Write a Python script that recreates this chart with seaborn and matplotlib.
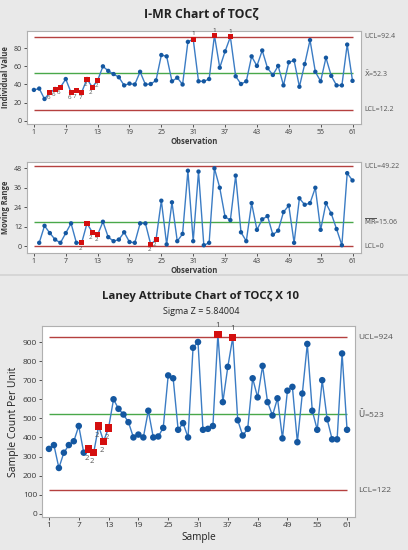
import pandas as pd
import seaborn as sns
import matplotlib.pyplot as plt
from matplotlib.patches import Rectangle

# individual values (I chart)
obs = list(range(1, 62))
toc = [34, 35.5, 24, 31, 35, 37, 46, 31, 33, 31.5,
       46, 37, 44.5, 60, 55, 51.5, 48, 39, 41, 40,
       54, 40, 40.5, 44.5, 72.5, 71, 43.5, 47.5, 40, 87,
       90, 43.5, 43.5, 46, 94, 58.5, 76.5, 92.5, 49, 40.5,
       43.5, 71, 60.5, 77.5, 58, 50.5, 60.5, 39, 64.5, 66.5,
       37.5, 62.5, 89, 54, 43.5, 69.5, 49.5, 39, 39, 84, 44]
i_red = [4, 5, 6, 8, 9, 10, 11, 12, 13, 31, 35, 38]
i_tags = ['6', '6', '6', '6', '7', '7', '2', '2', '2', '1', '1', '1']

# moving ranges
mr_obs = list(range(2, 62))
mr = [2, 12.5, 8, 4, 2, 8, 14, 2, 2, 14,
      8.5, 7, 15, 5.5, 3, 4, 8.5, 2.5, 2, 14,
      14, 1, 4, 28, 1, 27, 3, 7.5, 46.5, 3,
      46, 0.5, 2, 48, 36, 18, 16, 43.5, 8.5, 3,
      26.5, 10, 16.5, 18.5, 7, 9.5, 21, 25, 2, 29.5,
      25.5, 26.5, 36, 10, 26.5, 20, 10.5, 0.5, 45, 40.5]
mr_red = [10, 11, 12, 13, 23, 24]
mr_tags = ['2', '', '2', '2', '2', '2']

# Laney U' chart (TOC x 10)
laney = [340, 360, 240, 320, 360, 380, 460, 320, 340, 320,
         460, 380, 450, 600, 550, 520, 480, 400, 415, 400,
         540, 400, 405, 450, 725, 710, 440, 475, 400, 870,
         900, 440, 445, 460, 940, 585, 770, 925, 490, 410,
         445, 710, 610, 775, 585, 515, 605, 395, 645, 665,
         375, 630, 890, 540, 440, 700, 495, 390, 390, 840, 440]
l_red = [9, 10, 11, 12, 13, 35, 38]
l_tags = ['2', '2', '2', '2', '2', '1', '1']

xticks = list(range(1, 62, 6))

W, H = 408, 550
LINE = '#3b7cc4'
DOT = '#1457a0'
RED = '#d40f0f'
LIM = '#b5403f'
CEN = '#49a84a'
TXT = '#3a3a3a'
LABC = '#555555'


def rect(l, t, r, b):
    return [l / W, 1 - b / H, (r - l) / W, (b - t) / H]


sns.set_theme(style='white')
plt.rcParams['font.family'] = ['Open Sans', 'DejaVu Sans']

fig = plt.figure(figsize=(W / 100, H / 100), dpi=100)
fig.patch.set_facecolor('#e9e9e9')
fig.add_artist(Rectangle((0, 1 - 276 / H), 1, 2 / H, transform=fig.transFigure,
                         facecolor='#d6d6d6', edgecolor='none'))


def draw(ax, x, y, red, tags, lims, labels, xlim, ylim, yticks, fs, lab_x,
         tag_fs, msize):
    df = pd.DataFrame({'x': x, 'y': y})
    sns.lineplot(data=df, x='x', y='y', ax=ax, color=LINE, lw=1.0)
    sns.scatterplot(data=df, x='x', y='y', ax=ax, color=DOT, s=msize,
                    edgecolor='none', zorder=3)
    rd = df[df['x'].isin(red)]
    sns.scatterplot(data=rd, x='x', y='y', ax=ax, color=RED, marker='s',
                    s=msize * 1.3, edgecolor='none', zorder=4)
    span = ylim[1] - ylim[0]
    for (xi, yi), t in zip(rd[['x', 'y']].values, tags):
        if t == '1':
            ax.text(xi, yi + span * 0.03, t, ha='center', va='bottom',
                    fontsize=tag_fs, color=TXT)
        elif t:
            ax.text(xi - 0.3, yi - span * 0.03, t, ha='center', va='top',
                    fontsize=tag_fs, color='#555555')
    cols = [LIM, CEN, LIM]
    for v, c, lab in zip(lims, cols, labels):
        ax.hlines(v, 1, 61, color=c, lw=1.0, zorder=1)
        ax.annotate(lab, xy=(lab_x, v), xycoords=('figure pixels', 'data'),
                    va='center', ha='left', fontsize=fs, color=LABC)
    ax.set_xlim(*xlim)
    ax.set_ylim(*ylim)
    ax.set_xticks(xticks)
    ax.set_yticks(yticks)
    ax.tick_params(axis='both', labelsize=fs, colors=TXT, length=2,
                   width=0.6, pad=1.5, bottom=True, left=True)
    for s in ax.spines.values():
        s.set_color('#b0b0b0')
        s.set_linewidth(0.8)
    ax.set_facecolor('white')


# I chart
ax1 = fig.add_axes(rect(27, 31, 361, 124))
draw(ax1, obs, toc, i_red, i_tags, [92.4, 52.3, 12.2],
     ['UCL=92.4', r'$\bar{\mathrm{X}}$=52.3', 'LCL=12.2'],
     (-0.3, 62.6), (-3.6, 99), [0, 20, 40, 60, 80], 5, 364, 4.5, 10)
ax1.set_xlabel('Observation', fontsize=5.5, fontweight='bold', color=TXT,
               labelpad=1)
ax1.set_ylabel('Individual Value', fontsize=5.5, fontweight='bold', color=TXT,
               labelpad=3)

# MR chart
ax2 = fig.add_axes(rect(27, 162, 361, 253))
draw(ax2, mr_obs, mr, mr_red, mr_tags, [49.22, 15.06, 0],
     ['UCL=49.22', r'$\overline{\mathrm{MR}}$=15.06', 'LCL=0'],
     (-0.3, 62.6), (-4.3, 51.9), [0, 12, 24, 36, 48], 5, 364, 4.5, 10)
ax2.set_xlabel('Observation', fontsize=5.5, fontweight='bold', color=TXT,
               labelpad=1)
ax2.set_ylabel('Moving Range', fontsize=5.5, fontweight='bold', color=TXT,
               labelpad=3)

fig.text(201 / W, 1 - 15 / H, 'I-MR Chart of TOCζ', ha='center',
         va='center', fontsize=8.8, fontweight='bold', color='#222222')

# Laney chart
ax3 = fig.add_axes(rect(42, 326, 355, 517))
draw(ax3, obs, laney, l_red, l_tags, [924, 523, 122],
     ['UCL=924', r'$\bar{\mathrm{U}}$=523', 'LCL=122'],
     (-0.4, 62.6), (-17, 984), list(range(0, 1000, 100)), 6, 358, 5.5, 22)
ax3.set_xlabel('Sample', fontsize=7.2, color='#222222', labelpad=2)
ax3.set_ylabel('Sample Count Per Unit', fontsize=7.5, color='#222222',
               labelpad=3)

fig.text(201 / W, 1 - 297 / H, 'Laney Attribute Chart of TOCζ X 10',
         ha='center', va='center', fontsize=8.2, fontweight='bold',
         color='#222222')
fig.text(201 / W, 1 - 312 / H, 'Sigma Z = 5.84004', ha='center',
         va='center', fontsize=6.5, color='#222222')

fig.savefig('out.png', dpi=100, facecolor=fig.get_facecolor())
